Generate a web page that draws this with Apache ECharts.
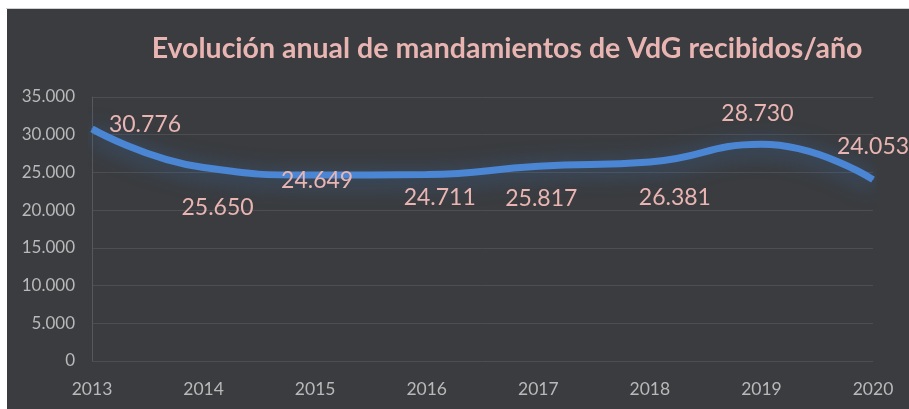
<!DOCTYPE html>
<html>
<head>
<meta charset="utf-8">
<script src="https://cdn.jsdelivr.net/npm/echarts@6/dist/echarts.min.js"></script>
<style>
html,body{margin:0;padding:0;background:#ffffff;}
#wrap{position:absolute;left:0;top:0;width:909px;height:409px;background:#fff;}
#edge{position:absolute;left:6px;top:8px;width:903px;height:1px;background:#d0d0d0;}
#chart{position:absolute;left:7px;top:9px;width:902px;height:400px;}
</style>
</head>
<body>
<div id="wrap"><div id="edge"></div><div id="chart"></div></div>
<script>
const titleText = 'Evolución anual de mandamientos de VdG recibidos/año';
const years = ['2013','2014','2015','2016','2017','2018','2019','2020'];
const received = [30776, 25650, 24649, 24711, 25817, 26381, 28730, 24053];
const yTicks = [0, 5000, 10000, 15000, 20000, 25000, 30000, 35000];

// label placement (layout only)
const labelOffsets = [[53,-4],[14,40],[2,6],[13,23],[3,32],[25,36],[-4,-31],[0,-33]];

function fmt(v){
  return String(Math.round(v)).replace(/\B(?=(\d{3})+(?!\d))/g, '.');
}

const chart = echarts.init(document.getElementById('chart'), null, {renderer:'canvas'});
chart.setOption({
  backgroundColor: '#3a3c3f',
  animation: false,
  title: {
    text: titleText,
    left: 495,
    textAlign: 'center',
    top: 20,
    textStyle: {color:'#e9b5b3', fontFamily:'Lato', fontWeight:'bold', fontSize:28.5}
  },
  grid: {left:85, right:36, top:88, bottom:48, containLabel:false},
  xAxis: {
    type:'category',
    data: years,
    boundaryGap: false,
    axisLine: {show:false},
    axisTick: {show:false},
    axisLabel: {color:'#b9b9b9', fontFamily:'Lato', fontSize:17.5, margin:19}
  },
  yAxis: {
    type:'value',
    min: yTicks[0],
    max: yTicks[yTicks.length-1],
    interval: yTicks[1]-yTicks[0],
    axisLine: {show:true, lineStyle:{color:'#56585b', width:1}},
    axisTick: {show:false},
    splitLine: {lineStyle:{color:'#4c4e52', width:1}},
    axisLabel: {color:'#b9b9b9', fontFamily:'Lato', fontSize:17, margin:17, formatter: v => fmt(v)}
  },
  series: [{
    type:'line',
    data: received.map((v,i)=>({value:v, label:{offset:labelOffsets[i]}})),
    smooth: 0.5,
    symbol:'circle',
    symbolSize: 1,
    itemStyle: {color:'#4a86d4'},
    lineStyle: {color:'#4a86d4', width:7, shadowColor:'rgba(60,120,200,0.6)', shadowBlur:22, shadowOffsetY:4},
    label: {
      show:true,
      position:'inside',
      color:'#e9b5b3',
      fontFamily:'Lato',
      fontSize:23,
      formatter: p => fmt(p.value)
    },
    z: 3
  }]
});
</script>
</body>
</html>
